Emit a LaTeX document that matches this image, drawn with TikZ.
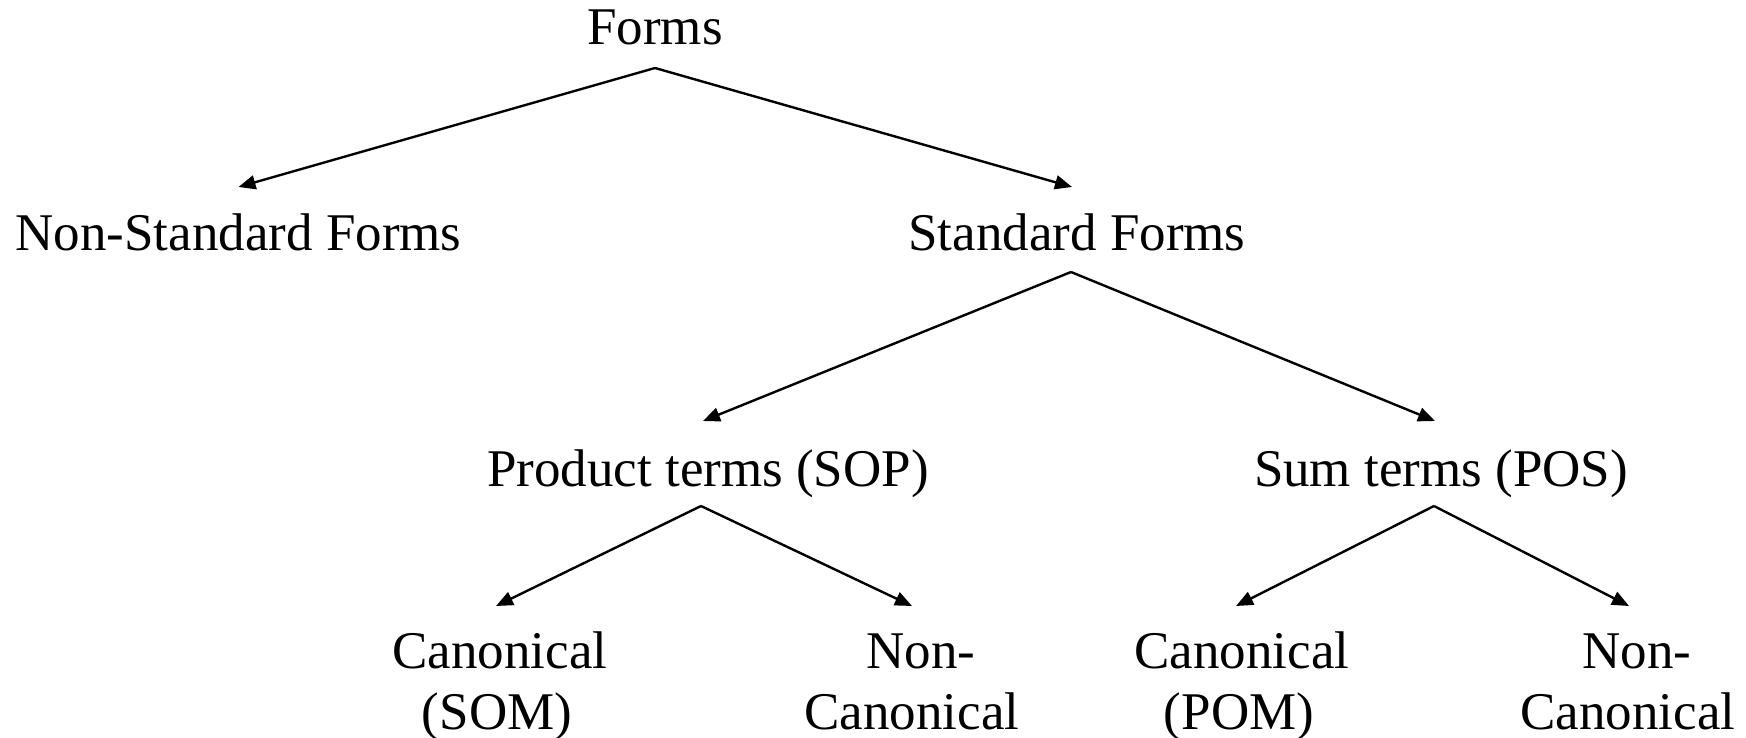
\documentclass[tikz,border=0pt]{standalone}
\usepackage{fontspec}
\setmainfont{Liberation Serif}
\usetikzlibrary{arrows.meta}
\begin{document}
\begin{tikzpicture}[x=1pt,y=-1pt,
  lbl/.style={anchor=base,inner sep=0pt,align=center,font=\fontsize{53}{61}\selectfont},
  arr/.style={line width=2.4pt,-{Triangle[length=17pt,width=14pt]}}]
\useasboundingbox (0,0) rectangle (1746,738);
\node[lbl] (forms) at (655,45) {Forms};
\node[lbl] (nsf) at (238.5,251) {Non-Standard Forms};
\node[lbl] (sf) at (1077,251) {Standard Forms};
\node[lbl] (prod) at (708,486) {Product terms (SOP)};
\node[lbl] (sum) at (1441,486) {Sum terms (POS)};
\node[lbl] (csom) at (500,729) {Canonical\\\hspace*{-6pt}(SOM)};
\node[lbl] (ncl) at (912,729) {\hspace*{18pt}Non-\\Canonical};
\node[lbl] (cpom) at (1242,729) {Canonical\\\hspace*{-6pt}(POM)};
\node[lbl] (ncr) at (1628,729) {\hspace*{18pt}Non-\\Canonical};
\draw[arr] ([yshift=-23pt]forms.base) -- ([yshift=64pt]nsf.base);
\draw[arr] ([yshift=-23pt]forms.base) -- ([xshift=-5pt,yshift=64pt]sf.base);
\draw[arr] ([xshift=-6pt,yshift=-21pt]sf.base) -- ([xshift=-5pt,yshift=65pt]prod.base);
\draw[arr] ([xshift=-6pt,yshift=-21pt]sf.base) -- ([xshift=-6pt,yshift=65pt]sum.base);
\draw[arr] ([xshift=-7pt,yshift=-20pt]prod.base) -- ([xshift=-4pt,yshift=123pt]csom.base);
\draw[arr] ([xshift=-7pt,yshift=-20pt]prod.base) -- ([yshift=123pt]ncl.base);
\draw[arr] ([xshift=-7pt,yshift=-20pt]sum.base) -- ([xshift=-6pt,yshift=123pt]cpom.base);
\draw[arr] ([xshift=-7pt,yshift=-20pt]sum.base) -- ([xshift=1pt,yshift=123pt]ncr.base);
\end{tikzpicture}
\end{document}
